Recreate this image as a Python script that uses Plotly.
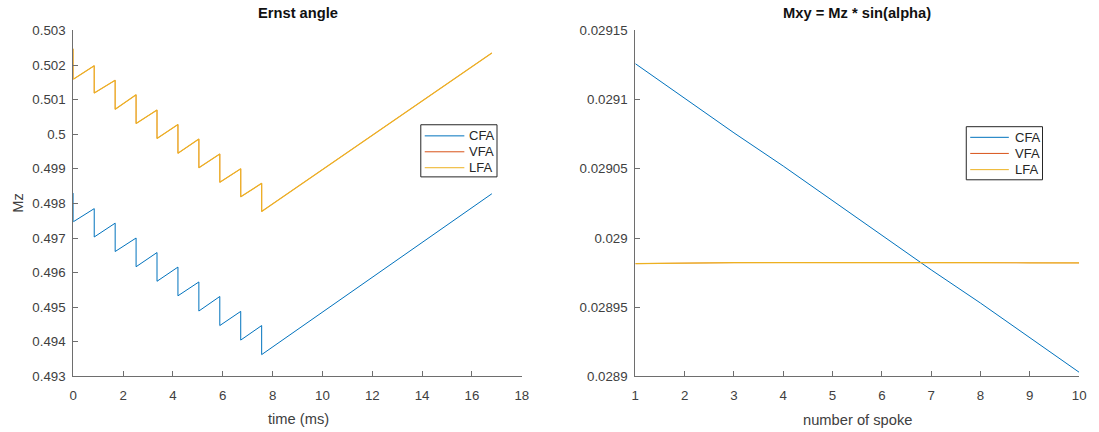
import plotly.graph_objects as go

# ---------- data: left panel (Ernst angle) ----------
pulse_times = [0, 0.84, 1.68, 2.52, 3.36, 4.2, 5.04, 5.88, 6.72, 7.56]
t_end = 16.8

cfa_start = 0.49830
cfa_peaks = [0.49785, 0.49743, 0.49700, 0.49658, 0.49616, 0.49573, 0.49531, 0.49488, 0.49447]
cfa_bottoms = [0.49747, 0.49703, 0.49661, 0.49617, 0.49575, 0.49533, 0.49489, 0.49447, 0.49405, 0.49363]
cfa_end = 0.49828

lfa_start = 0.50247
lfa_peaks = [0.50198, 0.50156, 0.50114, 0.50070, 0.50028, 0.49986, 0.49943, 0.49900, 0.49858]
lfa_bottoms = [0.50159, 0.50119, 0.50072, 0.50031, 0.49988, 0.49945, 0.49903, 0.49861, 0.49819, 0.49777]
lfa_end = 0.50235

# VFA coincides with LFA (hidden beneath it)
vfa_start, vfa_peaks, vfa_bottoms, vfa_end = lfa_start, lfa_peaks, lfa_bottoms, lfa_end

# ---------- data: right panel (Mxy) ----------
spokes = [1, 2, 3, 4, 5, 6, 7, 8, 9, 10]
mxy_cfa = [0.029126, 0.029101, 0.029076, 0.029052, 0.029027, 0.029002, 0.028977, 0.028953, 0.028928, 0.028903]
mxy_lfa = [0.0289815, 0.028982, 0.0289822, 0.0289823, 0.0289824, 0.0289824, 0.0289823, 0.0289822, 0.0289821, 0.028982]
mxy_vfa = mxy_lfa

left_yticks = [0.493, 0.494, 0.495, 0.496, 0.497, 0.498, 0.499, 0.5, 0.501, 0.502, 0.503]
left_yticktext = ["0.493", "0.494", "0.495", "0.496", "0.497", "0.498", "0.499", "0.5", "0.501", "0.502", "0.503"]
left_xticks = [0, 2, 4, 6, 8, 10, 12, 14, 16, 18]
right_yticks = [0.0289, 0.02895, 0.029, 0.02905, 0.0291, 0.02915]
right_yticktext = ["0.0289", "0.02895", "0.029", "0.02905", "0.0291", "0.02915"]
right_xticks = [1, 2, 3, 4, 5, 6, 7, 8, 9, 10]

names = ["CFA", "VFA", "LFA"]
colors = ["#0072BD", "#D95319", "#EDB120"]
widths = [1, 0.6, 1.2]


def sawtooth(start, peaks, bottoms, end):
    t = [pulse_times[0], pulse_times[0]]
    y = [start, bottoms[0]]
    for i in range(1, len(pulse_times)):
        t += [pulse_times[i], pulse_times[i]]
        y += [peaks[i - 1], bottoms[i]]
    t.append(t_end)
    y.append(end)
    return t, y


fig = go.Figure()
left_series = [
    (cfa_start, cfa_peaks, cfa_bottoms, cfa_end),
    (vfa_start, vfa_peaks, vfa_bottoms, vfa_end),
    (lfa_start, lfa_peaks, lfa_bottoms, lfa_end),
]
for name, col, lw, s in zip(names, colors, widths, left_series):
    tx, ty = sawtooth(*s)
    fig.add_trace(go.Scatter(x=tx, y=ty, mode="lines", name=name,
                             line=dict(color=col, width=lw),
                             xaxis="x", yaxis="y", showlegend=False))

for name, col, lw, vals in zip(names, colors, widths, [mxy_cfa, mxy_vfa, mxy_lfa]):
    fig.add_trace(go.Scatter(x=spokes, y=vals, mode="lines", name=name,
                             line=dict(color=col, width=lw),
                             xaxis="x2", yaxis="y2", showlegend=False))

W, H = 1099, 432
TICK_FONT = dict(family="Liberation Sans", size=13.3, color="#404040")
LABEL_SIZE = 14.7
ax_common = dict(showline=True, linecolor="#6e6e6e", linewidth=1, mirror=False,
                 ticks="inside", ticklen=5, tickcolor="#6e6e6e", showgrid=False,
                 zeroline=False, tickfont=TICK_FONT)
xa = dict(ticklabelstandoff=7, **ax_common)
ya = dict(ticklabelstandoff=4, **ax_common)

fig.update_layout(
    width=W, height=H,
    margin=dict(l=0, r=0, t=0, b=0),
    paper_bgcolor="white", plot_bgcolor="white",
    font=dict(family="Liberation Sans", size=13, color="#404040"),
    xaxis=dict(domain=[70 / W, 523 / W], range=[0, 18], tickvals=left_xticks,
               anchor="y", **xa),
    yaxis=dict(domain=[(H - 382.7) / H, (H - 24.3) / H], range=[0.493, 0.503],
               tickvals=left_yticks, ticktext=left_yticktext, anchor="x", **ya),
    xaxis2=dict(domain=[637.7 / W, 1086 / W], range=[1, 10], tickvals=right_xticks,
                anchor="y2", **xa),
    yaxis2=dict(domain=[(H - 382.7) / H, (H - 24.3) / H], range=[0.0289, 0.02915],
                tickvals=right_yticks, ticktext=right_yticktext, anchor="x2", **ya),
    showlegend=False,
)


def px(x):
    return x / W


def py(y):
    return 1 - y / H


# MATLAB-style boxed legends (one per panel), placed in pixel space
legend_boxes = [
    dict(box=(421, 122, 498, 176), line_x=(425, 465), rows=(133.5, 150, 166.5), text_x=468),
    dict(box=(972, 124, 1049, 179), line_x=(976, 1015), rows=(135, 151.7, 168.5), text_x=1019),
]
for lg in legend_boxes:
    x0, y0, x1, y1 = lg["box"]
    fig.add_shape(type="rect", xref="paper", yref="paper",
                  x0=px(x0), x1=px(x1), y0=py(y1), y1=py(y0),
                  line=dict(color="#262626", width=1), fillcolor="white", layer="above")
    for name, col, ry in zip(names, colors, lg["rows"]):
        fig.add_shape(type="line", xref="paper", yref="paper",
                      x0=px(lg["line_x"][0]), x1=px(lg["line_x"][1]), y0=py(ry), y1=py(ry),
                      line=dict(color=col, width=1), layer="above")
        fig.add_annotation(xref="paper", yref="paper", x=px(lg["text_x"]), y=py(ry),
                           xanchor="left", yanchor="middle", showarrow=False, text=name,
                           font=dict(family="Liberation Sans", size=13, color="#262626"))

annots = [
    dict(text="<b>Ernst angle</b>", x=297 / W, y=1 - 6 / H, font=dict(size=LABEL_SIZE, color="#111111")),
    dict(text="<b>Mxy = Mz * sin(alpha)</b>", x=862 / W, y=1 - 6 / H, font=dict(size=LABEL_SIZE, color="#111111")),
    dict(text="time (ms)", x=297 / W, y=1 - 427 / H, font=dict(size=LABEL_SIZE, color="#404040")),
    dict(text="number of spoke", x=862 / W, y=1 - 428 / H, font=dict(size=LABEL_SIZE, color="#404040")),
    dict(text="Mz", x=14 / W, y=1 - 203 / H, textangle=-90, font=dict(size=LABEL_SIZE, color="#404040")),
]
for a in annots:
    fig.add_annotation(xref="paper", yref="paper", xanchor="center", yanchor="middle",
                       showarrow=False, **a)

fig.write_html("out.html")
